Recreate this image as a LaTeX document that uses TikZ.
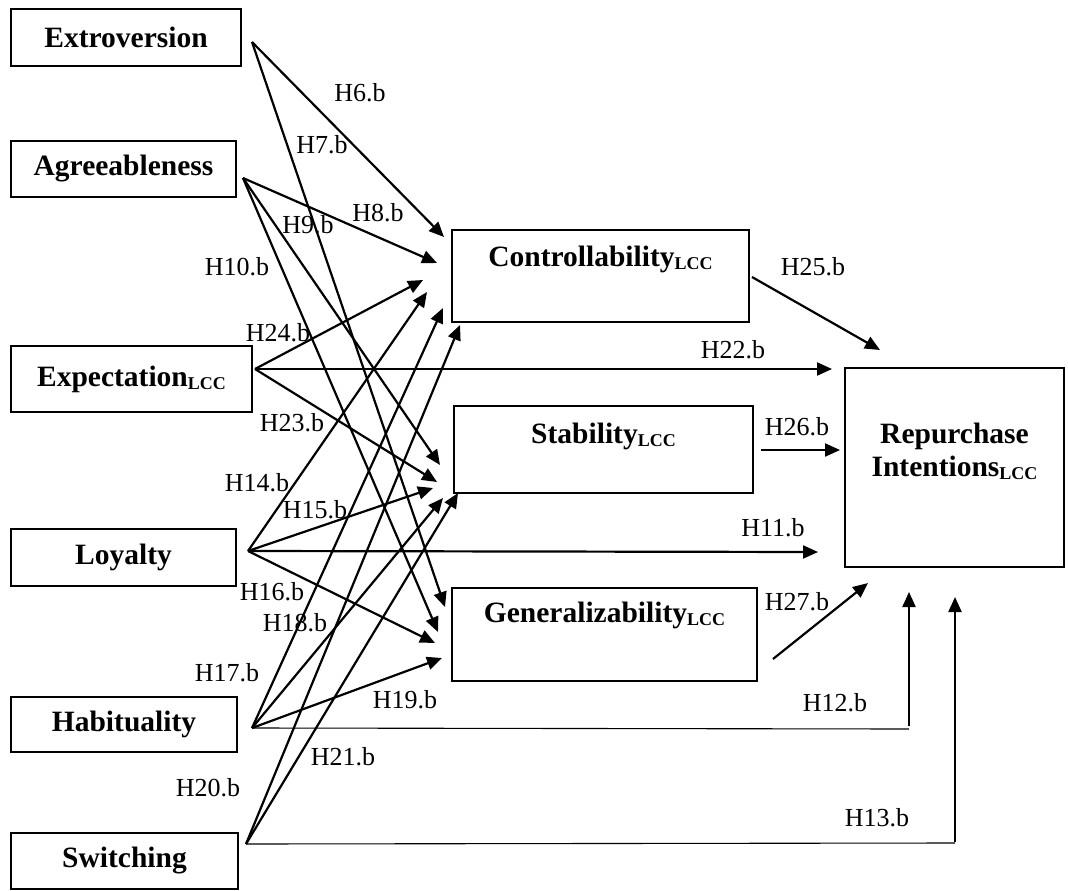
\documentclass[tikz,border=0pt]{standalone}
\usepackage{fontspec}
\setmainfont{Liberation Serif}
\usetikzlibrary{arrows.meta}
\newcommand\lccsub{\raisebox{-3pt}{\fontsize{18}{18}\selectfont LCC}}
\tikzset{
  box/.style={draw, line width=2pt, inner sep=0pt},
  btext/.style={font=\fontsize{29.5}{33}\selectfont\bfseries, inner sep=0pt, align=center},
  hlab/.style={font=\fontsize{26}{28}\selectfont, inner sep=0pt},
  arr/.style={line width=2.2pt, -{Triangle[length=15pt,width=13pt]}},
  thinline/.style={line width=1.1pt}
}
\begin{document}
\begin{tikzpicture}[x=1pt,y=-1pt]
\useasboundingbox (0,0) rectangle (1068,891);
% left boxes
\node[box, btext, minimum width=230pt, minimum height=57pt] (ext) at (126,37.5) {Extroversion};
\node[box, btext, minimum width=225pt, minimum height=56pt] (agr) at (123.5,169) {Agreeableness};
\node[box, btext, minimum width=241pt, minimum height=66pt] (exp) at (131.5,379) {Expectation\lccsub};
\node[box, btext, minimum width=225pt, minimum height=57pt] (loy) at (123.5,557.5) {Loyalty};
\node[box, btext, minimum width=226pt, minimum height=55pt] (hab) at (124,724.5) {Habituality};
\node[box, btext, minimum width=227pt, minimum height=56pt] (swi) at (124.5,861) {Switching};
% middle boxes
\node[box, minimum width=297pt, minimum height=92pt] (con) at (600.5,276) {};
\node[btext] (con-t) at (600.5,259) {Controllability\lccsub};
\node[box, minimum width=299pt, minimum height=87pt] (sta) at (603.5,449.5) {};
\node[btext] (sta-t) at (603.5,436) {Stability\lccsub};
\node[box, minimum width=305pt, minimum height=93pt] (gen) at (604.5,634.5) {};
\node[btext] (gen-t) at (604.5,615) {Generalizability\lccsub};
% right box
\node[box, minimum width=219pt, minimum height=199pt] (rep) at (954.5,467.5) {};
\node[btext] (rep-t) at (954.5,451) {Repurchase\\Intentions\lccsub};
% origins
\coordinate (ext-o) at (252,42);
\coordinate (agr-o) at (243,178);
\coordinate (exp-o) at (255,369);
\coordinate (loy-o) at (248,551);
\coordinate (hab-o) at (252,728);
\coordinate (swi-o) at (246,844);
\coordinate (con-o) at (752,277);
\coordinate (sta-o) at (761,450);
\coordinate (gen-o) at (773,659);
% ends
\coordinate (e6) at (444,237);
\coordinate (e7) at (445,607);
\coordinate (e8) at (437,263);
\coordinate (e9) at (440,465);
\coordinate (e10) at (438,632);
\coordinate (e24) at (423,280);
\coordinate (e22) at (832,369);
\coordinate (e23) at (437,482);
\coordinate (e14) at (427,292);
\coordinate (e15) at (433,488);
\coordinate (e11) at (818,552);
\coordinate (e16) at (435,643);
\coordinate (e17) at (443,308);
\coordinate (e18) at (443,498);
\coordinate (e19) at (442,658);
\coordinate (c12) at (909,729);
\coordinate (e12) at (909,592);
\coordinate (e20) at (460,325);
\coordinate (e21) at (458,493);
\coordinate (c13) at (955,843);
\coordinate (e13) at (955,597);
\coordinate (e25) at (880,350);
\coordinate (e26) at (840,450);
\coordinate (e27) at (868,583);
% connectors
\draw[arr] (ext-o) -- (e6);
\draw[arr] (ext-o) -- (e7);
\draw[arr] (agr-o) -- (e8);
\draw[arr] (agr-o) -- (e9);
\draw[arr] (agr-o) -- (e10);
\draw[arr] (exp-o) -- (e24);
\draw[arr] (exp-o) -- (e22);
\draw[arr] (exp-o) -- (e23);
\draw[arr] (loy-o) -- (e14);
\draw[arr] (loy-o) -- (e15);
\draw[arr] (loy-o) -- (e11);
\draw[arr] (loy-o) -- (e16);
\draw[arr] (hab-o) -- (e17);
\draw[arr] (hab-o) -- (e18);
\draw[arr] (hab-o) -- (e19);
\draw[thinline] (hab-o) -- (c12);
\draw[arr] ([yshift=3pt]c12) -- (e12);
\draw[arr] (swi-o) -- (e20);
\draw[arr] (swi-o) -- (e21);
\draw[thinline] (swi-o) -- (c13);
\draw[arr] ([yshift=1pt]c13) -- (e13);
\draw[arr] (con-o) -- (e25);
\draw[arr] (sta-o) -- (e26);
\draw[arr] (gen-o) -- (e27);
% labels
\node[hlab] (l6) at (360,93) {H6.b};
\node[hlab] (l7) at (322,145) {H7.b};
\node[hlab] (l8) at (378,213) {H8.b};
\node[hlab] (l9) at (308,225) {H9.b};
\node[hlab] (l10) at (237,267) {H10.b};
\node[hlab] (l25) at (813,267) {H25.b};
\node[hlab] (l24) at (278,333) {H24.b};
\node[hlab] (l22) at (733,350) {H22.b};
\node[hlab] (l23) at (292,423) {H23.b};
\node[hlab] (l26) at (797,427) {H26.b};
\node[hlab] (l14) at (257,483) {H14.b};
\node[hlab] (l15) at (315,510) {H15.b};
\node[hlab] (l11) at (773,528) {H11.b};
\node[hlab] (l16) at (272,592) {H16.b};
\node[hlab] (l18) at (295,623) {H18.b};
\node[hlab] (l27) at (797,602) {H27.b};
\node[hlab] (l17) at (227,673) {H17.b};
\node[hlab] (l19) at (405,700) {H19.b};
\node[hlab] (l12) at (835,703) {H12.b};
\node[hlab] (l21) at (343,757) {H21.b};
\node[hlab] (l20) at (208,788) {H20.b};
\node[hlab] (l13) at (877,818) {H13.b};
\end{tikzpicture}
\end{document}
